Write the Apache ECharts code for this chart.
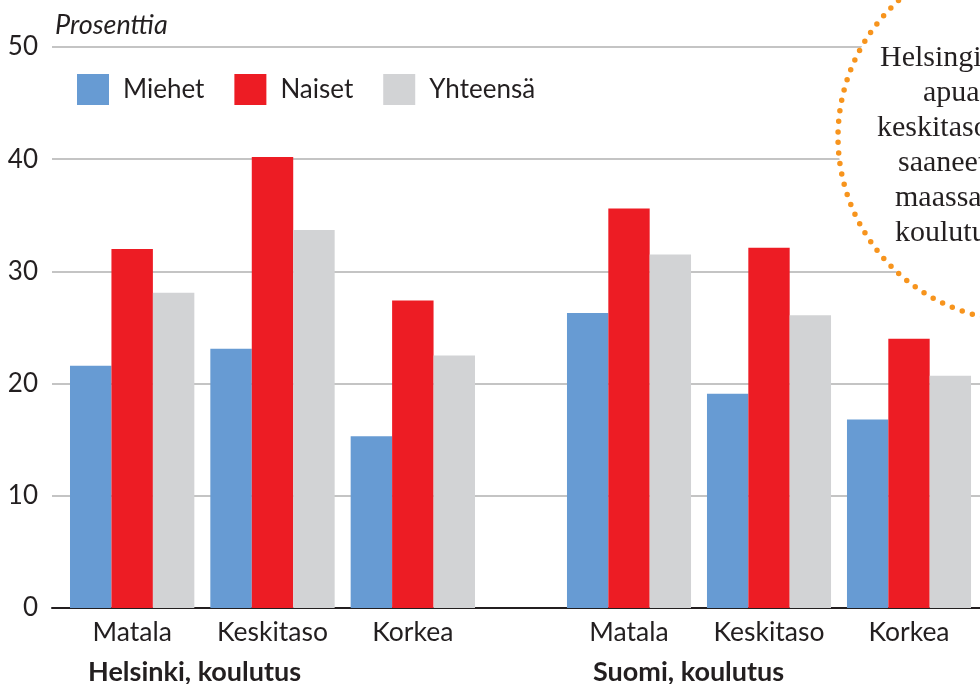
<!DOCTYPE html>
<html>
<head>
<meta charset="utf-8">
<script src="https://cdn.jsdelivr.net/npm/echarts@6/dist/echarts.min.js"></script>
<style>
  html, body { margin: 0; padding: 0; background: #fff; }
  #chart-container { width: 980px; height: 684px; }
</style>
</head>
<body>
<div id="chart-container"></div>
<script>
// data
var categories = ['Matala', 'Keskitaso', 'Korkea'];
var groupLabels = ['Helsinki, koulutus', 'Suomi, koulutus'];
var seriesNames = ['Miehet', 'Naiset', 'Yhteensä'];
var yTicks = [0, 10, 20, 30, 40, 50];

var helsinkiMiehet = [21.6, 23.1, 15.3];
var helsinkiNaiset = [32.0, 40.2, 27.4];
var helsinkiYht = [28.1, 33.7, 22.5];

var suomiMiehet = [26.3, 19.1, 16.8];
var suomiNaiset = [35.6, 32.1, 24.0];
var suomiYht = [31.5, 26.1, 20.7];

// text inside the dotted circle (clipped by the right edge)
var noteLines = ['Helsingissä', 'apua saaneista', 'keskitason', 'saaneet', 'maassa', 'koulutuksen'];
var noteX = [880, 923, 877, 898, 895, 895];

var colors = ['#679bd3', '#ed1c24', '#d2d3d5'];
var font = 'Lato, "Noto Sans", sans-serif';

var myChart = echarts.init(document.getElementById('chart-container'));

function barSeries(name, data, idx, color) {
    return {
        name: name,
        type: 'bar',
        xAxisIndex: idx,
        yAxisIndex: idx,
        data: data,
        barGap: 0,
        barCategoryGap: '11.4%',
        itemStyle: { color: color },
        emphasis: { disabled: true },
        animation: false
    };
}

function catAxis(idx) {
    return {
        type: 'category',
        gridIndex: idx,
        data: categories,
        axisLine: { show: false },
        axisTick: { show: false },
        axisLabel: { interval: 0, hideOverlap: false, fontFamily: font, fontSize: 26.5, color: '#231f20', margin: 11 }
    };
}

function hiddenY(idx) {
    return {
        type: 'value', gridIndex: idx, min: 0, max: 50, interval: 10,
        show: false, splitLine: { show: false }
    };
}

var noteGraphics = [{
    type: 'circle',
    z: 100,
    shape: { cx: 1022, cy: 137, r: 184 },
    style: { fill: '#fff', stroke: '#f7941d', lineWidth: 5.5, lineDash: [0, 10.6], lineCap: 'round' }
}];
noteLines.forEach(function (t, i) {
    noteGraphics.push({
        type: 'text', z: 101, left: noteX[i], top: 43 + 35 * i,
        style: { text: t, font: '30px "Liberation Serif", serif', fill: '#231f20' }
    });
});

myChart.setOption({
    backgroundColor: '#fff',
    animation: false,
    legend: {
        left: 77,
        top: 74,
        padding: 0,
        itemWidth: 32,
        itemHeight: 31,
        itemGap: 30,
        icon: 'rect',
        selectedMode: false,
        data: seriesNames,
        textStyle: { fontFamily: font, fontSize: 26, color: '#231f20', padding: [2, 0, 0, 9] }
    },
    grid: [
        // background grid: y axis labels, grid lines, black base line
        { left: 52, right: 0, top: 47, bottom: 76 },
        { left: 62, width: 421, top: 47, bottom: 76 },
        { left: 559, width: 420, top: 47, bottom: 76 }
    ],
    xAxis: [
        {
            type: 'category', gridIndex: 0, data: [''],
            axisLine: { lineStyle: { color: '#231f20', width: 2 } },
            axisTick: { show: false },
            axisLabel: { show: false }
        },
        catAxis(1),
        catAxis(2)
    ],
    yAxis: [
        {
            type: 'value', gridIndex: 0, min: yTicks[0], max: yTicks[yTicks.length - 1], interval: 10,
            axisLine: { show: false },
            axisTick: { show: false },
            axisLabel: { fontFamily: font, fontSize: 26, color: '#231f20', margin: 14 },
            splitLine: { lineStyle: { color: '#c4c4c4', width: 2 } }
        },
        hiddenY(1),
        hiddenY(2)
    ],
    graphic: [
        { type: 'text', left: 55, top: 12, style: { text: 'Prosenttia', font: 'italic 27px Lato, sans-serif', fill: '#231f20' } },
        { type: 'text', left: 88, top: 659, style: { text: groupLabels[0], font: 'bold 27px Lato, sans-serif', fill: '#231f20' } },
        { type: 'text', left: 593, top: 659, style: { text: groupLabels[1], font: 'bold 27px Lato, sans-serif', fill: '#231f20' } }
    ].concat(noteGraphics),
    series: [
        barSeries(seriesNames[0], helsinkiMiehet, 1, colors[0]),
        barSeries(seriesNames[1], helsinkiNaiset, 1, colors[1]),
        barSeries(seriesNames[2], helsinkiYht, 1, colors[2]),
        barSeries(seriesNames[0], suomiMiehet, 2, colors[0]),
        barSeries(seriesNames[1], suomiNaiset, 2, colors[1]),
        barSeries(seriesNames[2], suomiYht, 2, colors[2])
    ]
});
</script>
</body>
</html>
